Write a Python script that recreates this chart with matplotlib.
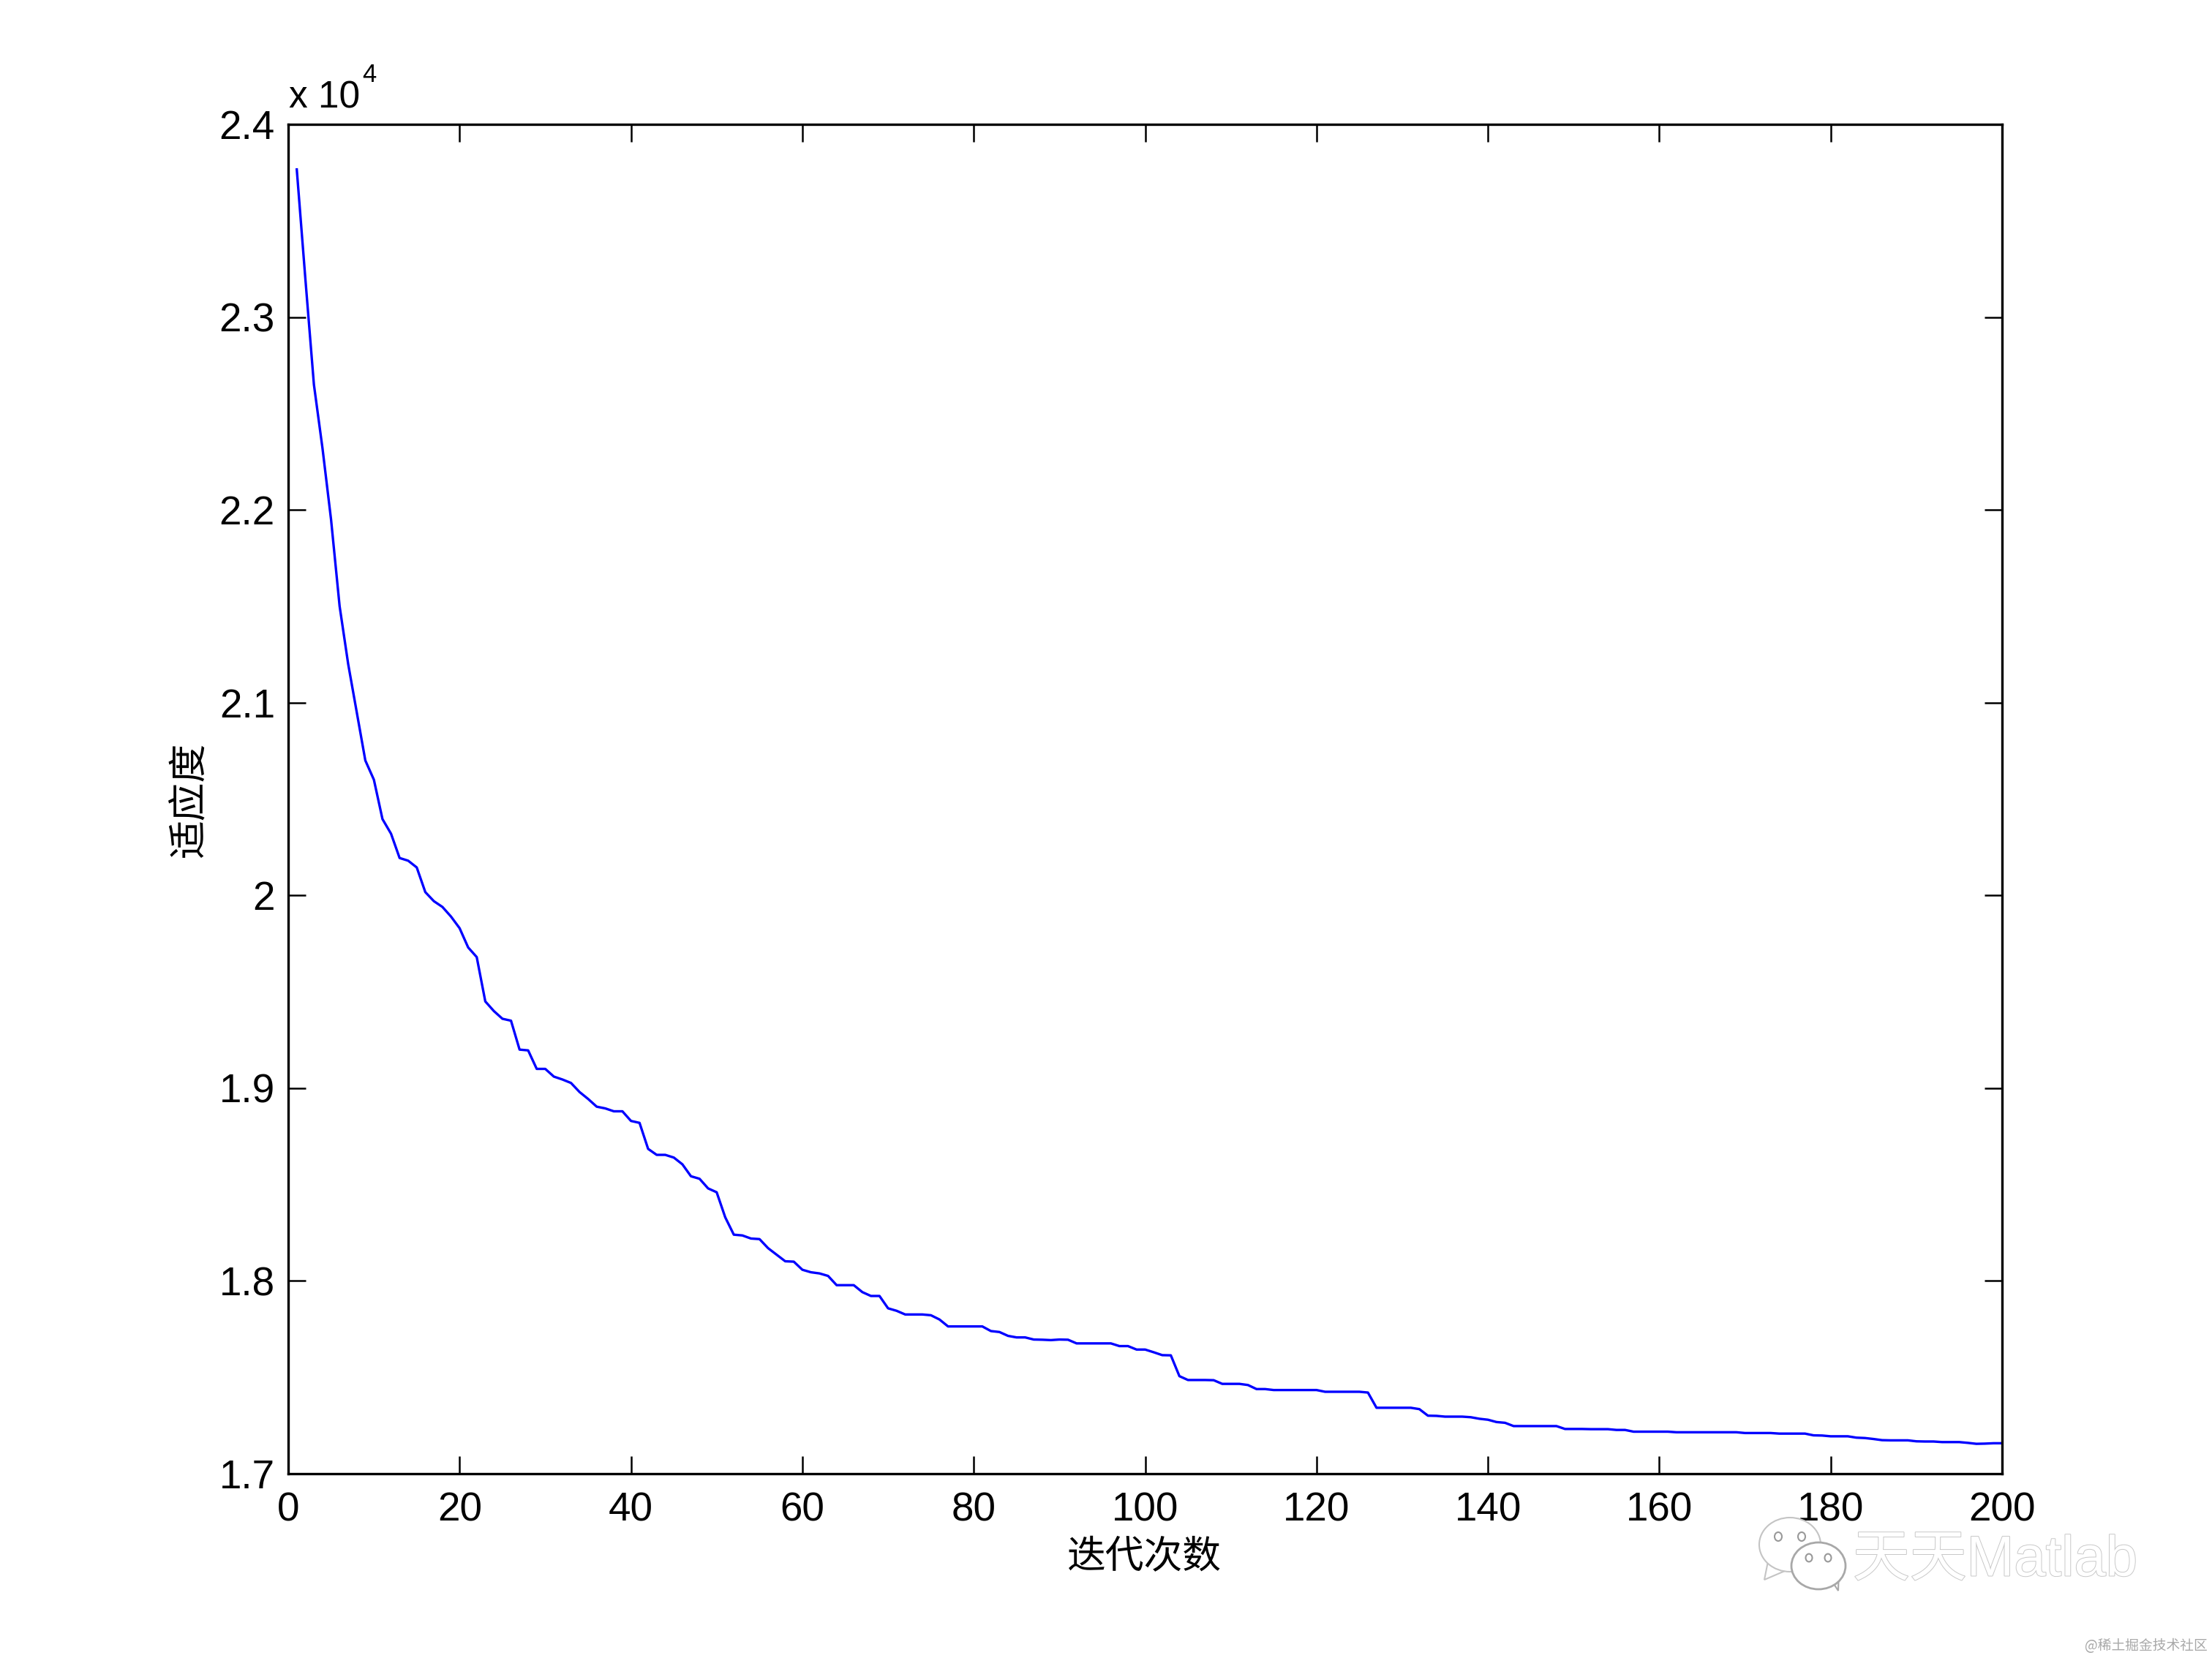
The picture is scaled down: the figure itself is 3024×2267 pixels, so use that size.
import numpy as np
import matplotlib
matplotlib.use('Agg')
from matplotlib import pyplot as plt
from matplotlib import patheffects
from matplotlib.patches import Ellipse, Polygon

plt.rcParams['font.family'] = ['Liberation Sans', 'Noto Sans CJK SC']

# 适应度 (x 10^4), one value per iteration
fitness = [
    2.3766, 2.320, 2.265, 2.232, 2.195, 2.150, 2.120, 2.095, 2.070, 2.060,
    2.0396, 2.032, 2.0194, 2.018, 2.0145, 2.0017, 1.997, 1.994, 1.989, 1.983,
    1.973, 1.968, 1.945, 1.940, 1.936, 1.935, 1.920, 1.9196, 1.910, 1.910,
    1.906, 1.9045, 1.9027, 1.898, 1.8944, 1.8904, 1.8895, 1.888, 1.888, 1.883,
    1.882, 1.8685, 1.8654, 1.8654, 1.864, 1.8605, 1.8543, 1.853, 1.848, 1.846,
    1.833, 1.824, 1.8236, 1.822, 1.8217, 1.817, 1.8136, 1.8102, 1.810, 1.8058,
    1.8045, 1.8039, 1.8026, 1.7978, 1.7978, 1.7978, 1.7942, 1.7922, 1.7922, 1.7858,
    1.7845, 1.7826, 1.7826, 1.7826, 1.7822, 1.780, 1.7764, 1.7764, 1.7764, 1.7764,
    1.7764, 1.774, 1.7735, 1.7715, 1.7707, 1.7707, 1.7696, 1.7695, 1.7693, 1.7696,
    1.7695, 1.7676, 1.7676, 1.7676, 1.7676, 1.7676, 1.7662, 1.7662, 1.7644, 1.7644,
    1.763, 1.7615, 1.7614, 1.7506, 1.7486, 1.7486, 1.7486, 1.7485, 1.7466, 1.7466,
    1.7466, 1.746, 1.7439, 1.7439, 1.7434, 1.7434, 1.7434, 1.7434, 1.7434, 1.7434,
    1.7425, 1.7425, 1.7425, 1.7425, 1.7425, 1.7421, 1.7342, 1.7342, 1.7342, 1.7342,
    1.7342, 1.7335, 1.7301, 1.730, 1.7296, 1.7296, 1.7296, 1.7293, 1.7285, 1.728,
    1.7268, 1.7264, 1.7247, 1.7247, 1.7247, 1.7247, 1.7247, 1.7247, 1.7232, 1.7232,
    1.7232, 1.7231, 1.7231, 1.7231, 1.7227, 1.7227, 1.7218, 1.7218, 1.7218, 1.7218,
    1.7218, 1.7215, 1.7215, 1.7215, 1.7215, 1.7215, 1.7215, 1.7215, 1.7215, 1.7211,
    1.7211, 1.7211, 1.7211, 1.7208, 1.7208, 1.7208, 1.7208, 1.7199, 1.7198, 1.7194,
    1.7194, 1.7194, 1.7187, 1.7185, 1.718, 1.7174, 1.7173, 1.7173, 1.7173, 1.7168,
    1.7167, 1.7167, 1.7164, 1.7164, 1.7164, 1.716, 1.7155, 1.7156, 1.7158, 1.7158,
]
iterations = list(range(1, 201))

x_ticks = list(range(0, 201, 20))
y_ticks = [1.7, 1.8, 1.9, 2.0, 2.1, 2.2, 2.3, 2.4]
y_tick_labels = ['1.7', '1.8', '1.9', '2', '2.1', '2.2', '2.3', '2.4']

W, H = 3024, 2267
fig = plt.figure(figsize=(W / 100, H / 100), dpi=100, facecolor='white')
ax = fig.add_axes([394 / W, 1 - 2015 / H, (2737 - 394) / W, (2015 - 170) / H])

ax.plot(iterations, fitness, color='#0000ff', linewidth=2.4)
ax.set_xlim(0, 200)
ax.set_ylim(1.7, 2.4)
ax.set_xticks(x_ticks)
ax.set_yticks(y_ticks)
ax.set_yticklabels(y_tick_labels)
ax.tick_params(direction='in', top=True, right=True, length=17, width=1.8, labelsize=39.5)
ax.tick_params(axis='x', pad=18)
ax.tick_params(axis='y', pad=13)
for s in ax.spines.values():
    s.set_linewidth(2.4)

ax.set_xlabel('迭代次数', fontsize=38)
ax.set_ylabel('适应度', fontsize=38)
ax.xaxis.set_label_coords((1564 - 394) / (2737 - 394), -(2130 - 2015) / (2015 - 170), transform=ax.transAxes)
ax.xaxis.label.set_va('center')
ax.yaxis.set_label_coords(-(394 - 260) / (2737 - 394), (2015 - 1093) / (2015 - 170), transform=ax.transAxes)
ax.yaxis.label.set_va('center')

# overlay in pixel coords for the exponent and the watermark
ov = fig.add_axes([0, 0, 1, 1], facecolor='none')
ov.set_xlim(0, W)
ov.set_ylim(H, 0)
ov.axis('off')

ov.text(395, 147, 'x 10', fontsize=37, ha='left', va='baseline')
ov.text(495, 112, '4', fontsize=25, ha='left', va='baseline')

# 水印
edge = '#c4c4c4'
ov.add_patch(Polygon([[2418, 2130], [2412, 2160], [2440, 2148]], fc='white', ec=edge, lw=1.5))
ov.add_patch(Ellipse((2447, 2112), 84, 74, fc='white', ec=edge, lw=1.5))
ov.add_patch(Polygon([[2500, 2155], [2513, 2175], [2514, 2145]], fc='white', ec='#a8a8a8', lw=1.5))
ov.add_patch(Ellipse((2486, 2141), 74, 64, fc='white', ec='#a8a8a8', lw=2))
for ex, ey, er in [(2431, 2101, 5), (2463, 2101, 5), (2473, 2130, 4.5), (2499, 2130, 4.5)]:
    ov.add_patch(Ellipse((ex, ey), er * 2, er * 2.4, fc='white', ec='#999999', lw=1.5))
ov.text(2533, 2134, '天天Matlab', fontsize=56, color='white', ha='left', va='center',
        path_effects=[patheffects.withStroke(linewidth=1.4, foreground='#c8c8c8')])

ov.text(3018, 2251, '@稀土掘金技术社区', fontsize=13.5, color='#a8a8a8', ha='right', va='center',
        family=['Noto Sans CJK SC', 'DejaVu Sans'])

fig.savefig('out.png', dpi=100, facecolor='white')
